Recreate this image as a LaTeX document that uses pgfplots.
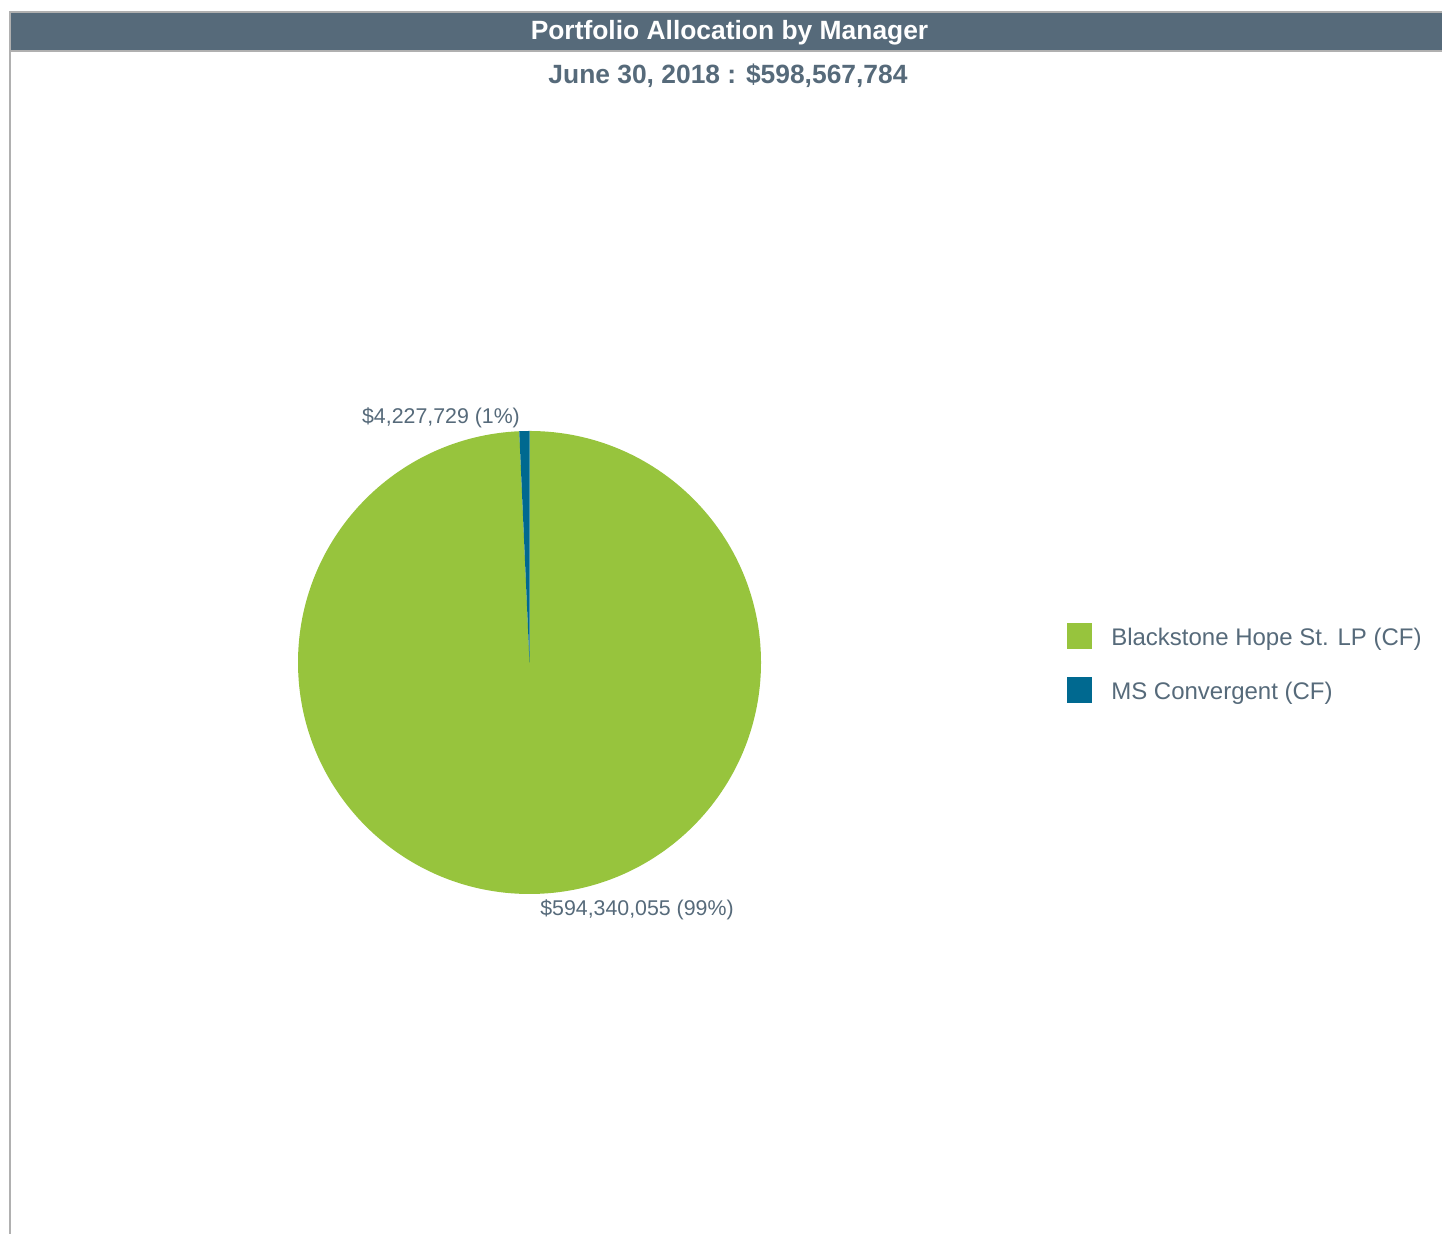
\documentclass[border=0pt]{standalone}
\usepackage{pgfplots}
\pgfplotsset{compat=1.18}
\usepackage{pgfplotstable}
\usepackage{fontspec}
\setmainfont{Liberation Sans}

\definecolor{slate}{HTML}{566A7A}
\definecolor{frame}{HTML}{B0B0B0}
\definecolor{pieGreen}{HTML}{97C43D}
\definecolor{pieBlue}{HTML}{006990}

% allocation by manager (USD)
\pgfplotstableread{
manager value
Blackstone 594340055
MSConvergent 4227729
}\alloc

\pgfplotstablegetelem{0}{value}\of\alloc \edef\valA{\pgfplotsretval}
\pgfplotstablegetelem{1}{value}\of\alloc \edef\valB{\pgfplotsretval}
% slices start at 12 o'clock and run clockwise
\edef\sweepA{\fpeval{360*\valA/(\valA+\valB)}}
\edef\endA{\fpeval{90-\sweepA}}
\def\R{173.625pt}

\begin{document}
\begin{tikzpicture}
\begin{axis}[
  width=1081.5pt, height=925.5pt, scale only axis,
  xmin=0, xmax=1442, ymin=0, ymax=1234,
  hide axis, clip=false,
]
\addplot[draw=none, forget plot] coordinates {(0,0) (1442,1234)};

% header bar and frame
\draw[frame, line width=1.6pt, fill=slate] (axis cs:10,1222) rectangle (axis cs:1445,1183);
\draw[frame, line width=1.6pt] (axis cs:10,1183) -- (axis cs:10,0);
\node[white, font=\fontsize{19.8pt}{24pt}\selectfont\bfseries] at (axis cs:729.5,1201) {Portfolio Allocation by Manager};
\node[slate, font=\fontsize{19.8pt}{24pt}\selectfont\bfseries] at (axis cs:728,1158) {June 30, 2018 : \$598,567,784};

% pie
\fill[pieGreen] (axis cs:529.5,571.5) -- ++(90:\R) arc[start angle=90, end angle=\endA, radius=\R] -- cycle;
\fill[pieBlue] (axis cs:529.5,571.5) -- ++(\endA:\R) arc[start angle=\endA, end angle=-270, radius=\R] -- cycle;

% data labels
\node[slate, font=\fontsize{16pt}{19pt}\selectfont] at (axis cs:441,816) {\$4,227,729 (1\%)};
\node[slate, font=\fontsize{16pt}{19pt}\selectfont] at (axis cs:637,324) {\$594,340,055 (99\%)};

% legend
\fill[pieGreen] (axis cs:1067,611) rectangle (axis cs:1092,585);
\fill[pieBlue] (axis cs:1067,557) rectangle (axis cs:1092,531);
\node[slate, anchor=west, inner sep=0pt, font=\fontsize{18pt}{22pt}\selectfont] at (axis cs:1111,595) {Blackstone Hope St. LP (CF)};
\node[slate, anchor=west, inner sep=0pt, font=\fontsize{18pt}{22pt}\selectfont] at (axis cs:1111,541) {MS Convergent (CF)};
\end{axis}
\pgfresetboundingbox
\useasboundingbox (current axis.south west) rectangle (current axis.north east);
\end{tikzpicture}
\end{document}
